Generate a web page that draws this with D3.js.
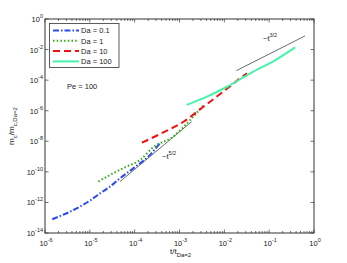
<!DOCTYPE html>
<html>
<head>
<meta charset="utf-8">
<script src="https://cdn.jsdelivr.net/npm/d3@7"></script>
<style>
  body { margin: 0; background: #fff; }
  svg text { font-family: "Liberation Sans", Arial, sans-serif; fill: #222; }
</style>
</head>
<body>
<div id="chart"></div>
<script>
// data (t/t_Da=2 , m_c/m_c,Da=2)
const da01T = [1.45e-6, 4.3e-6, 1e-5, 1.7e-5, 2.8e-5, 4.7e-5, 9.3e-5, 2.2e-4, 3.7e-4];
const da01M = [7.9e-14, 3.2e-13, 1.3e-12, 4e-12, 1.07e-11, 3.8e-11, 1.7e-10, 1.3e-9, 7.8e-9];
const da1T = [1.55e-5, 3.3e-5, 6.6e-5, 1.32e-4, 2.6e-4, 7.2e-4, 1.74e-3, 3.4e-3];
const da1M = [2.3e-11, 8.1e-11, 2.2e-10, 6e-10, 4.1e-9, 2e-8, 2.5e-7, 2.2e-6];
const da10T = [1.45e-4, 3.7e-4, 1.23e-3, 3.4e-3, 9.5e-3, 2.24e-2, 3.2e-2];
const da10M = [8.1e-9, 3e-8, 1.9e-7, 1.8e-6, 1.8e-5, 1.3e-4, 2.8e-4];
const da100T = [1.45e-3, 4.1e-3, 1.15e-2, 3.8e-2, 0.15, 0.38];
const da100M = [2.4e-6, 8.3e-6, 3.7e-5, 2.8e-4, 2.4e-3, 1.4e-2];
const slope52T = [4.7e-5, 1.86e-3];
const slope52M = [2.3e-11, 1.9e-7];
const slope32T = [1.86e-2, 0.63];
const slope32M = [4.2e-4, 7.8e-2];

const legendLabels = ["Da = 0.1", "Da = 1", "Da = 10", "Da = 100"];
const xTicks = [1e-6, 1e-5, 1e-4, 1e-3, 1e-2, 1e-1, 1];
const xTickExp = ["-6", "-5", "-4", "-3", "-2", "-1", "0"];
const yTicks = [1e-14, 1e-12, 1e-10, 1e-8, 1e-6, 1e-4, 1e-2, 1];
const yTickExp = ["-14", "-12", "-10", "-8", "-6", "-4", "-2", "0"];

const W = 347, H = 263;
const L = 45, R = 314, T = 19, B = 233;

const svg = d3.select("#chart").append("svg")
  .attr("width", W).attr("height", H);

const x = d3.scaleLog().domain([1e-6, 1]).range([L, R]);
const y = d3.scaleLog().domain([1e-14, 1]).range([B, T]);

// =================================================================
// AXES
// =================================================================
const axisColor = "#333";
const minorX = [];
for (let e = -6; e < 0; e++) for (let k = 2; k <= 9; k++) minorX.push(k * Math.pow(10, e));

const ticks = svg.append("g").attr("stroke", axisColor).attr("stroke-width", 0.7);
minorX.forEach(v => {
  ticks.append("line").attr("x1", x(v)).attr("x2", x(v)).attr("y1", B).attr("y2", B - 2);
  ticks.append("line").attr("x1", x(v)).attr("x2", x(v)).attr("y1", T).attr("y2", T + 2);
});
xTicks.forEach(v => {
  ticks.append("line").attr("x1", x(v)).attr("x2", x(v)).attr("y1", B).attr("y2", B - 3.5);
  ticks.append("line").attr("x1", x(v)).attr("x2", x(v)).attr("y1", T).attr("y2", T + 3.5);
});
yTicks.forEach(v => {
  ticks.append("line").attr("x1", L).attr("x2", L + 3.5).attr("y1", y(v)).attr("y2", y(v));
  ticks.append("line").attr("x1", R).attr("x2", R - 3.5).attr("y1", y(v)).attr("y2", y(v));
});

svg.append("rect").attr("x", L).attr("y", T).attr("width", R - L).attr("height", B - T)
  .attr("fill", "none").attr("stroke", axisColor).attr("stroke-width", 1);

function powLabel(g, px, py, exp, anchor) {
  const t = g.append("text").attr("x", px).attr("y", py).attr("font-size", 7.5).attr("text-anchor", anchor);
  t.append("tspan").text("10");
  t.append("tspan").attr("dy", -4).attr("font-size", 5.5).text(exp);
}
const lab = svg.append("g");
xTicks.forEach((v, i) => powLabel(lab, x(v) + 1, 246, xTickExp[i], "middle"));
yTicks.forEach((v, i) => powLabel(lab, L - 2, y(v) + 3, yTickExp[i], "end"));

// axis titles
const xt = svg.append("text").attr("x", 170).attr("y", 254).attr("font-size", 8);
xt.append("tspan").text("t/t");
xt.append("tspan").attr("dy", 3).attr("font-size", 6).text("Da=2");

const yt = svg.append("text").attr("transform", "translate(14,126) rotate(-90)")
  .attr("text-anchor", "middle").attr("font-size", 8);
yt.append("tspan").text("m");
yt.append("tspan").attr("dy", 3).attr("font-size", 6).text("c");
yt.append("tspan").attr("dy", -3).text("/m");
yt.append("tspan").attr("dy", 3).attr("font-size", 6).text("c,Da=2");

// =================================================================
// SERIES
// =================================================================
const line = d3.line().x(d => x(d[0])).y(d => y(d[1])).curve(d3.curveMonotoneX);
const series = [
  { t: da01T, m: da01M, color: "#2a4bf0", dash: "6,2,1.5,2" },
  { t: da1T, m: da1M, color: "#33aa11", dash: "1.5,2.2" },
  { t: da10T, m: da10M, color: "#f01010", dash: "7,4" },
  { t: da100T, m: da100M, color: "#44f5a8", dash: null }
];

[[slope52T, slope52M], [slope32T, slope32M]].forEach(([t, m]) => {
  svg.append("path").attr("d", line(d3.zip(t, m)))
    .attr("fill", "none").attr("stroke", "#444").attr("stroke-width", 0.8);
});

series.forEach(s => {
  svg.append("path").attr("d", line(d3.zip(s.t, s.m)))
    .attr("fill", "none").attr("stroke", s.color).attr("stroke-width", 2)
    .attr("stroke-dasharray", s.dash);
});

function slopeLabel(px, py, exp) {
  const t = svg.append("text").attr("x", px).attr("y", py).attr("font-size", 7.5);
  t.append("tspan").text("~t");
  t.append("tspan").attr("dy", -4).attr("font-size", 5.5).text(exp);
}
slopeLabel(162, 159, "5/2");
slopeLabel(263, 41, "3/2");

svg.append("text").attr("x", 67).attr("y", 89).attr("font-size", 7.5).text("Pe = 100");

// =================================================================
// LEGEND
// =================================================================
const lg = svg.append("g");
lg.append("rect").attr("x", 49.5).attr("y", 23.5).attr("width", 69.5).attr("height", 44)
  .attr("fill", "#fff").attr("stroke", axisColor).attr("stroke-width", 0.8);
series.forEach((s, i) => {
  const yy = 30.5 + i * 10.3;
  lg.append("line").attr("x1", 53).attr("x2", 79).attr("y1", yy).attr("y2", yy)
    .attr("stroke", s.color).attr("stroke-width", 2).attr("stroke-dasharray", s.dash);
  lg.append("text").attr("x", 81).attr("y", yy + 2.7).attr("font-size", 7.5).text(legendLabels[i]);
});
</script>
</body>
</html>
